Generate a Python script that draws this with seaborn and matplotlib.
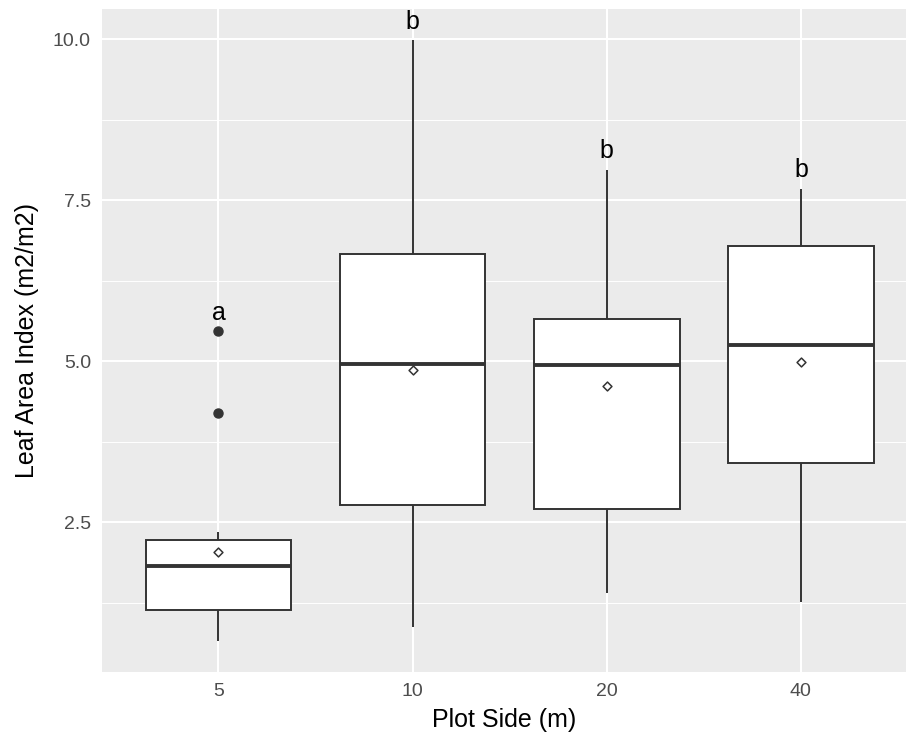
import matplotlib
matplotlib.use("Agg")
import matplotlib.pyplot as plt
from matplotlib.ticker import FixedLocator
import seaborn as sns
import pandas as pd

# ---- data ----
sides = ["5", "10", "20", "40"]
lower_whisker = [0.66, 0.87, 1.39, 1.26]
q1 = [1.13, 2.76, 2.70, 3.41]
median = [1.81, 4.95, 4.94, 5.25]
q3 = [2.22, 6.66, 5.65, 6.78]
upper_whisker = [2.35, 9.98, 7.97, 7.67]
outliers = [[4.20, 5.46], [], [], []]
means = [2.04, 4.86, 4.61, 4.99]
letters = ["a", "b", "b", "b"]

# build a sample per group whose box statistics equal the values above
rows = []
for i, s in enumerate(sides):
    vals = ([lower_whisker[i]] + [q1[i]] * 3 + [median[i]] * 3 + [q3[i]] * 3
            + [upper_whisker[i]] + outliers[i])
    rows += [(s, v) for v in vals]
df = pd.DataFrame(rows, columns=["side", "lai"])
df_mean = pd.DataFrame({"side": sides, "lai": means})

sns.set_theme(style="darkgrid")
plt.rcParams["font.family"] = ["Liberation Sans", "DejaVu Sans"]

fig = plt.figure(figsize=(9.06, 7.38), dpi=100)
ax = fig.add_axes([102 / 906, 1 - 672 / 738, (906 - 102) / 906, 663 / 738])
ax.set_facecolor("#EBEBEB")

line_c = "#333333"
sns.boxplot(data=df, x="side", y="lai", order=sides, ax=ax, color="white",
            saturation=1, width=0.75, linecolor=line_c, linewidth=1.4,
            whis=1.5, showcaps=False,
            medianprops={"linewidth": 2.8, "color": line_c},
            flierprops={"marker": "o", "markerfacecolor": line_c,
                        "markeredgecolor": line_c, "markersize": 6.5})

sns.stripplot(data=df_mean, x="side", y="lai", order=sides, ax=ax,
              jitter=False, marker="D", size=4.5, color="white",
              edgecolor=line_c, linewidth=1.1, zorder=5)

# significance letters above the highest point of each group
for i, s in enumerate(sides):
    top = max([upper_whisker[i]] + outliers[i])
    ax.text(i, top + 0.18, letters[i], ha="center", va="baseline",
            fontsize=18, color="black")

ax.set_xlim(-0.6, 3 + (906 - 801) / 194)
ax.set_ylim(0.171, 10.466)
ax.yaxis.set_major_locator(FixedLocator([2.5, 5.0, 7.5, 10.0]))
ax.yaxis.set_minor_locator(FixedLocator([1.25, 3.75, 6.25, 8.75]))
ax.set_yticklabels(["2.5", "5.0", "7.5", "10.0"])

ax.grid(which="major", color="white", linewidth=1.5)
ax.grid(which="minor", axis="y", color="white", linewidth=0.7)
ax.grid(which="minor", axis="x", visible=False)
ax.set_axisbelow(True)
for sp in ax.spines.values():
    sp.set_visible(False)

ax.tick_params(axis="both", which="major", length=4.5, width=1.1,
               color="#333333", labelcolor="#4D4D4D", labelsize=14, pad=3.5)
ax.tick_params(axis="both", which="minor", length=0)

ax.set_xlabel("Plot Side (m)", fontsize=18, color="black", labelpad=6)
ax.set_ylabel("Leaf Area Index (m2/m2)", fontsize=18, color="black", labelpad=10)

fig.savefig("out.png", dpi=100)
